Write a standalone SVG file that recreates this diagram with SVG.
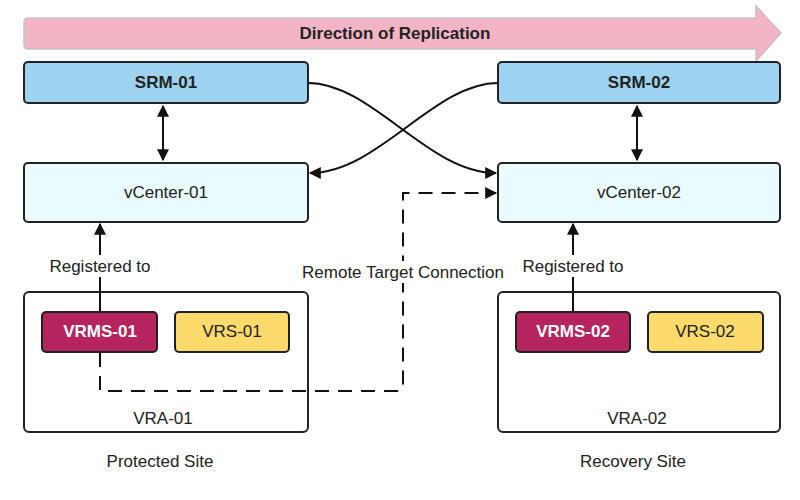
<svg xmlns="http://www.w3.org/2000/svg" width="800" height="500" viewBox="0 0 800 500">
<defs>
<style>
text{font-family:"Liberation Sans",Arial,sans-serif;font-size:17px;fill:#222;text-anchor:middle;dominant-baseline:central}
.b{font-weight:bold}
.box{stroke:#222;stroke-width:2}
.srm{fill:#9dd2f1}
.vc{fill:#eafbfd}
.vra{fill:none}
.vrms{fill:#b5245c}
.vrs{fill:#fcda6c}
.ln{fill:none;stroke:#111;stroke-width:2}
.dash{fill:none;stroke:#111;stroke-width:2;stroke-dasharray:14 9}
</style>
<marker id="ahl" viewBox="0 0 10 10" refX="9" refY="5" markerWidth="14" markerHeight="12" markerUnits="userSpaceOnUse" orient="auto-start-reverse">
<path d="M0,0 L10,5 L0,10 z" fill="#111"/>
</marker>
</defs>
<rect width="800" height="500" fill="#fff"/>
<g id="banner">
<path d="M28,18 H756 V6 L781,33 L756,61 V49 H28 Q24,49 24,45 V22 Q24,18 28,18 Z" fill="#f3b5c6" stroke="#c9c2c4" stroke-width="1.5"/>
<text x="395" y="33" class="b">Direction of Replication</text>
</g>
<g id="connectors">
<line x1="163" y1="106" x2="163" y2="160" class="ln" marker-start="url(#ahl)" marker-end="url(#ahl)"/>
<line x1="637" y1="106" x2="637" y2="160" class="ln" marker-start="url(#ahl)" marker-end="url(#ahl)"/>
<path d="M308,83 C372,83 428,173 496,173" class="ln" marker-end="url(#ahl)"/>
<path d="M498,83 C434,83 378,173 310,173" class="ln" marker-end="url(#ahl)"/>
<line x1="100" y1="312" x2="100" y2="224" class="ln" marker-end="url(#ahl)"/>
<line x1="573" y1="312" x2="573" y2="224" class="ln" marker-end="url(#ahl)"/>
<path d="M100,353 V391 H397 Q403,391 403,385 V193 H496" class="dash" marker-end="url(#ahl)"/>
</g>
<g id="srm-01"><rect x="24" y="62" width="284" height="41" rx="4" class="box srm"/><text x="166" y="82" class="b">SRM-01</text></g>
<g id="srm-02"><rect x="498" y="62" width="282" height="41" rx="4" class="box srm"/><text x="639" y="82" class="b">SRM-02</text></g>
<g id="vcenter-01"><rect x="24" y="163" width="284" height="59" rx="4" class="box vc"/><text x="166" y="192">vCenter-01</text></g>
<g id="vcenter-02"><rect x="498" y="163" width="282" height="59" rx="4" class="box vc"/><text x="639" y="192">vCenter-02</text></g>
<g id="label-reg1"><rect x="46" y="255" width="108" height="22" fill="#fff"/><text x="100" y="266">Registered to</text></g>
<g id="label-reg2"><rect x="519" y="255" width="108" height="22" fill="#fff"/><text x="573" y="266">Registered to</text></g>
<g id="label-remote"><rect x="300" y="261" width="206" height="22" fill="#fff"/><text x="403" y="272">Remote Target Connection</text></g>
<g id="vra-01"><rect x="24" y="292" width="284" height="140" rx="5" class="box vra"/><text x="163" y="418">VRA-01</text></g>
<g id="vra-02"><rect x="498" y="292" width="282" height="140" rx="5" class="box vra"/><text x="637" y="418">VRA-02</text></g>
<g id="vrms-01"><rect x="42" y="312" width="115" height="40" rx="4" class="box vrms"/><text x="100" y="331" class="b" style="fill:#fff">VRMS-01</text></g>
<g id="vrs-01"><rect x="175" y="312" width="114" height="40" rx="4" class="box vrs"/><text x="232" y="331">VRS-01</text></g>
<g id="vrms-02"><rect x="516" y="312" width="114" height="40" rx="4" class="box vrms"/><text x="573" y="331" class="b" style="fill:#fff">VRMS-02</text></g>
<g id="vrs-02"><rect x="648" y="312" width="115" height="40" rx="4" class="box vrs"/><text x="705" y="331">VRS-02</text></g>
<g id="sites"><text x="160" y="461">Protected Site</text><text x="633" y="461">Recovery Site</text></g>
</svg>
